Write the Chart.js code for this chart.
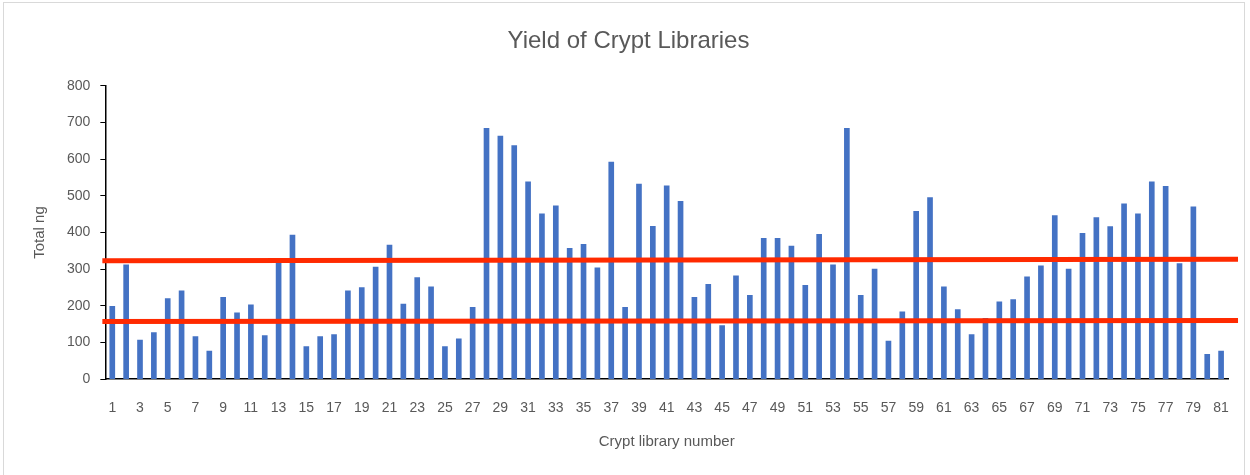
<!DOCTYPE html>
<html>
<head>
<meta charset="utf-8">
<script src="https://cdn.jsdelivr.net/npm/chart.js@4/dist/chart.umd.min.js"></script>
<style>
  html, body { margin: 0; padding: 0; background: #fff; }
  #wrap { position: relative; width: 1250px; height: 475px; }
  #frame { position: absolute; left: 3px; top: 2px; width: 1242px; height: 480px; border: 1px solid #d9d9d9; box-sizing: border-box; }
</style>
</head>
<body>
<div id="wrap">
  <div id="frame"></div>
  <canvas id="chartYield" width="1250" height="475"></canvas>
</div>
<script>
// Numero de libreria (1..81)
var libraries = [];
for (var i = 1; i <= 81; i++) libraries.push(String(i));

// Total ng por libreria
var totalNg = [
  199, 312, 107, 127, 220, 241, 116, 77, 223, 181,
  203, 119, 321, 393, 89, 116, 122, 241, 250, 306,
  366, 205, 277, 252, 89, 110, 196, 684, 663, 637,
  538, 451, 473, 357, 368, 304, 592, 196, 532, 417,
  527, 485, 223, 259, 146, 282, 229, 384, 384, 363,
  256, 395, 312, 684, 229, 300, 104, 184, 458, 495,
  252, 190, 122, 166, 211, 217, 279, 309, 446, 300,
  398, 441, 416, 478, 451, 538, 526, 315, 470, 68,
  77
];

// Lineas rojas de referencia (valor a la izquierda, valor a la derecha)
var upperLine = [323, 327];
var lowerLine = [157, 160];

var yTicks = [0, 100, 200, 300, 400, 500, 600, 700, 800];

var font = "'Liberation Sans Narrow', 'Liberation Sans', sans-serif";

// Dibuja las lineas rojas usando la escala y
var redLines = {
  id: 'redLines',
  afterDatasetsDraw: function(chart) {
    var y = chart.scales.y;
    var area = chart.chartArea;
    var ctx = chart.ctx;
    ctx.save();
    ctx.strokeStyle = '#ff2a00';
    ctx.lineWidth = 5;
    [upperLine, lowerLine].forEach(function(l) {
      ctx.beginPath();
      ctx.moveTo(area.left - 3, y.getPixelForValue(l[0]));
      ctx.lineTo(area.right + 10, y.getPixelForValue(l[1]));
      ctx.stroke();
    });
    ctx.restore();
  }
};

var ctxYield = document.getElementById('chartYield').getContext('2d');
new Chart(ctxYield, {
  type: 'bar',
  data: {
    labels: libraries,
    datasets: [{
      data: totalNg,
      backgroundColor: '#4472c4',
      barThickness: 5
    }]
  },
  options: {
    responsive: false,
    animation: false,
    layout: { padding: { left: 27, right: 20, top: 10, bottom: 24 } },
    plugins: {
      legend: { display: false },
      tooltip: { enabled: false },
      title: {
        display: true,
        text: 'Yield of Crypt Libraries',
        color: '#595959',
        font: { family: font, size: 24, weight: 'normal' },
        padding: { top: 17, bottom: 30 }
      }
    },
    scales: {
      x: {
        grid: { display: false, drawTicks: false },
        border: { color: '#000', width: 1.5 },
        ticks: {
          color: '#595959',
          font: { family: font, size: 14 },
          autoSkip: false,
          maxRotation: 0,
          padding: 21,
          callback: function(v, i) { return i % 2 === 0 ? libraries[i] : ''; }
        },
        title: {
          display: true,
          text: 'Crypt library number',
          color: '#595959',
          font: { family: font, size: 15 },
          padding: { top: -5, bottom: 0 }
        }
      },
      y: {
        min: 0,
        max: 800,
        afterBuildTicks: function(s) { s.ticks = yTicks.map(function(v) { return { value: v }; }); },
        grid: { display: true, drawOnChartArea: false, color: '#000', tickLength: 5 },
        border: { color: '#000', width: 1.5 },
        ticks: {
          color: '#595959',
          font: { family: font, size: 14 },
          padding: 10
        },
        title: {
          display: true,
          text: 'Total ng',
          color: '#595959',
          font: { family: font, size: 15 },
          padding: { bottom: 8 }
        }
      }
    }
  },
  plugins: [redLines]
});
</script>
</body>
</html>
